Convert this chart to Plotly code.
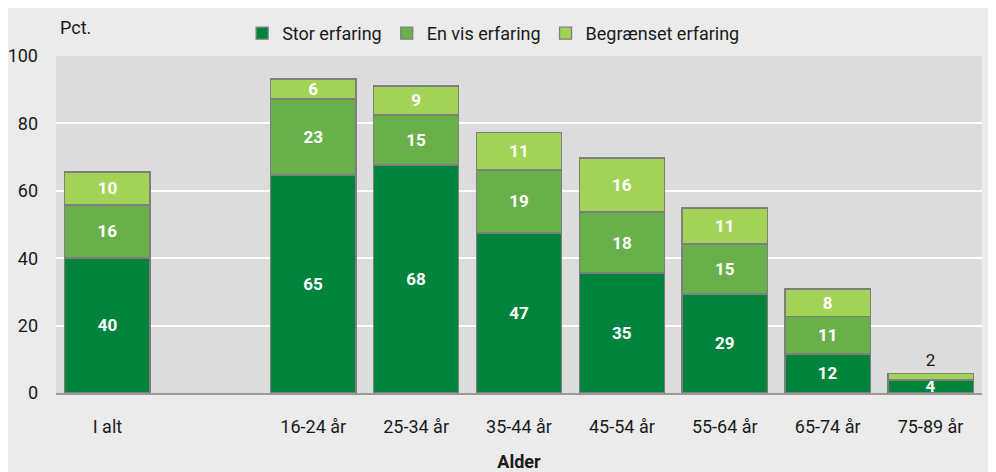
import plotly.graph_objects as go

categories = ["I alt", "", "16-24 år", "25-34 år", "35-44 år", "45-54 år", "55-64 år", "65-74 år", "75-89 år"]
stor = [40.1, None, 64.7, 67.7, 47.5, 35.6, 29.4, 11.6, 3.9]
stor_lbl = ["40", "", "65", "68", "47", "35", "29", "12", "4"]
envis = [15.7, None, 22.5, 14.8, 18.7, 18.1, 14.8, 11.2, 0]
envis_lbl = ["16", "", "23", "15", "19", "18", "15", "11", ""]
begr = [9.8, None, 6.0, 8.6, 11.2, 16.0, 10.7, 8.1, 1.9]
begr_lbl = ["10", "", "6", "9", "11", "16", "11", "8", "2"]
yticks = [0, 20, 40, 60, 80, 100]

FONT = "Roboto, sans-serif"
xpos = list(range(len(categories)))

series = [
    ("Stor erfaring", stor, stor_lbl, "#00843d"),
    ("En vis erfaring", envis, envis_lbl, "#69b04b"),
    ("Begrænset erfaring", begr, begr_lbl, "#a3d356"),
]

W, H = 984, 464
L, R, T, B = 48, 10, 48, 79
PW, PH = W - L - R, H - T - B

fig = go.Figure()
for name, vals, lbls, col in series:
    pos = ["inside"] * len(vals)
    if name == "Begrænset erfaring":
        pos[-1] = "outside"
    fig.add_trace(go.Bar(
        x=xpos, y=vals, name=name, text=lbls,
        textposition=pos, textangle=0, constraintext="none",
        insidetextanchor="middle",
        insidetextfont=dict(color="white", size=17, family=FONT, weight="bold"),
        outsidetextfont=dict(color="#1a1a1a", size=17, family=FONT),
        marker=dict(color=col, line=dict(color="#7f7f7f", width=1.3)),
        width=0.83, cliponaxis=False, hoverinfo="skip",
    ))

fig.update_layout(
    barmode="stack",
    width=W, height=H,
    margin=dict(l=L, r=R, t=T, b=B, autoexpand=False),
    paper_bgcolor="#ebebeb",
    plot_bgcolor="#dcdcdc",
    font=dict(family=FONT, size=18, color="#1a1a1a"),
    showlegend=True,
    legend=dict(orientation="h", x=0.201, y=1 + 4 / PH, xanchor="left", yanchor="bottom",
                bgcolor="rgba(0,0,0,0)", font=dict(size=18), traceorder="normal"),
    xaxis=dict(
        range=[-0.5, len(categories) - 0.5],
        tickmode="array", tickvals=xpos, ticktext=categories,
        showgrid=False, zeroline=False, automargin=False,
        showline=True, linecolor="#9a9a9a", linewidth=2,
        ticks="", ticklabelstandoff=16,
        title=dict(text="<b>Alder</b>", standoff=22, font=dict(size=18)),
    ),
    yaxis=dict(
        range=[0, 100], tickmode="array", tickvals=yticks, automargin=False,
        showgrid=True, gridcolor="#ffffff", gridwidth=2,
        zeroline=False, showline=False, ticks="", ticklabelstandoff=17,
    ),
    annotations=[dict(text="Pct.", xref="paper", yref="paper", x=2 / PW, y=1.0,
                      xanchor="left", yanchor="bottom", yshift=16, showarrow=False,
                      font=dict(size=18))],
)

fig.write_html("out.html")
